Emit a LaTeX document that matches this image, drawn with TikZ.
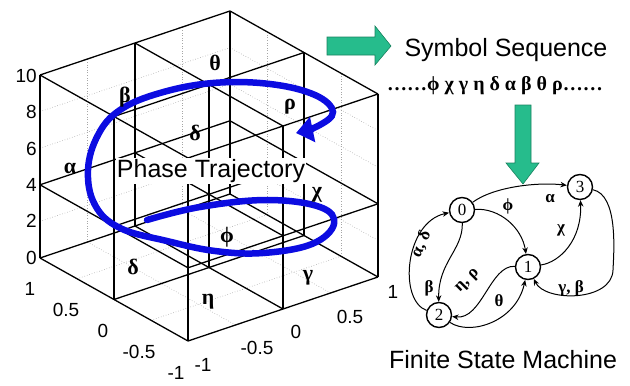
\documentclass[tikz,border=0pt]{standalone}
\usepackage{fontspec}
\setmainfont{Liberation Sans}
\newfontfamily\grk{Liberation Serif}
\usetikzlibrary{arrows.meta}
\definecolor{trajblue}{RGB}{12,12,225}
\definecolor{flowgreen}{RGB}{38,188,140}
\definecolor{flowedge}{RGB}{25,130,95}
\begin{document}
\begin{tikzpicture}[x=1pt,y=-1pt,
  cubeline/.style={line width=1.3pt, black},
  gridline/.style={gray!70, dotted, line width=0.6pt},
  ticklabel/.style={font=\fontsize{19}{19}\selectfont, inner sep=0pt},
  cell/.style={font=\grk\bfseries\fontsize{22}{22}\selectfont, inner sep=0pt},
  bigtext/.style={font=\fontsize{25}{25}\selectfont, inner sep=1pt},
  state/.style={circle, draw, line width=1.4pt, minimum size=25pt, inner sep=0pt, font=\grk\fontsize{17}{17}\selectfont},
  fsmedge/.style={-{Stealth[length=6.5pt,width=5.5pt]}, line width=1pt},
  elabel/.style={font=\grk\bfseries\fontsize{17}{17}\selectfont, inner sep=0pt},
  flowarrow/.style={fill=flowgreen, draw=flowedge, line width=0.6pt}]
\useasboundingbox (0,0) rectangle (630,386);

% ---------- 3D partitioned box ----------
\begin{scope}[shift={(209,267.5)}, x={(-74pt,41.5pt)}, y={(95pt,32pt)}, z={(0pt,18.3pt)}]
  \foreach \z in {2,6,8} { \draw[gridline] (1,-1,\z) -- (1,1,\z) -- (-1,1,\z); }
  \foreach \t in {-0.5,0.5} {
    \draw[gridline] (1,\t,0) -- (1,\t,10);
    \draw[gridline] (\t,1,0) -- (\t,1,10);
    \draw[gridline] (\t,-1,0) -- (\t,1,0);
    \draw[gridline] (-1,\t,0) -- (1,\t,0);
  }
  \foreach \z in {0,4,10} {
    \foreach \a in {-1,0,1} {
      \draw[cubeline] (\a,-1,\z) -- (\a,1,\z);
      \draw[cubeline] (-1,\a,\z) -- (1,\a,\z);
    }
  }
  \foreach \a in {-1,0,1} { \foreach \b in {-1,0,1} { \draw[cubeline] (\a,\b,0) -- (\a,\b,10); } }
\end{scope}

% tick labels
\node[ticklabel, anchor=east] (z10) at (37,76) {10};
\node[ticklabel, anchor=east] (z8) at (37,112) {8};
\node[ticklabel, anchor=east] (z6) at (37,149) {6};
\node[ticklabel, anchor=east] (z4) at (37,185) {4};
\node[ticklabel, anchor=east] (z2) at (37,221) {2};
\node[ticklabel, anchor=east] (z0) at (37,258) {0};
\node[ticklabel] (u1) at (30,289) {1};
\node[ticklabel] (u05) at (66,310) {0.5};
\node[ticklabel] (u0) at (103,331) {0};
\node[ticklabel] (um05) at (139,352) {-0.5};
\node[ticklabel] (um1) at (176,373) {-1};
\node[ticklabel] (vm1) at (203,365) {-1};
\node[ticklabel] (vm05) at (257,348) {-0.5};
\node[ticklabel] (v0) at (296,332) {0};
\node[ticklabel] (v05) at (350,317) {0.5};
\node[ticklabel] (v1) at (393,292) {1};

% trajectory
\draw[trajblue, line width=6.5pt, line cap=round, -{Triangle[length=17pt,width=25pt]}]
  plot[smooth, tension=0.65] coordinates {(147,220) (200,207) (267,200) (320,207) (334,224) (312,244) (263,253) (215,251) (167,241) (120,228) (95,205) (88,170) (98,135) (120,110) (160,93) (213,83) (270,84) (315,95) (333,112) (318,126) (296,133)};

% cell symbols
\node[cell] (cbeta) at (125,97) {β};
\node[cell] (ctheta) at (215,63) {θ};
\node[cell] (crho) at (290,107) {ρ};
\node[cell] (cdeltau) at (195,133) {δ};
\node[cell] (calpha) at (70,168) {α};
\node[cell] (cchi) at (317,195) {χ};
\node[cell] (cphi) at (227,237) {ϕ};
\node[cell] (cdeltal) at (133,267) {δ};
\node[cell] (ceta) at (208,302) {η};
\node[cell] (cgamma) at (308,278) {γ};

\node[bigtext, fill=white] (phase) at (211,171) {Phase Trajectory};

% green flow arrows
\draw[flowarrow] (327,37) -- (375,37) -- (375,26) -- (391,46) -- (375,65) -- (375,55) -- (327,55) -- cycle;
\draw[flowarrow] (515,105) -- (531,105) -- (531,163) -- (539,163) -- (523,184) -- (506,163) -- (515,163) -- cycle;

\node[bigtext] (symseq) at (506,50) {Symbol Sequence};
\node[font=\grk\bfseries\fontsize{20}{20}\selectfont, inner sep=0pt] (seq) at (495,86) {……ϕ χ γ η δ α β θ ρ……};

% finite state machine
\node[state] (n0) at (462,210) {0};
\node[state] (n3) at (580,187) {3};
\node[state] (n1) at (528,267) {1};
\node[state] (n2) at (439,315) {2};

\draw[fsmedge] (n0) .. controls (495,186) and (540,182) .. (n3);
\draw[fsmedge] (n0) .. controls (500,208) and (522,228) .. (n1);
\draw[fsmedge] (n1) .. controls (560,262) and (582,240) .. (n3);
\draw[fsmedge] (n3) .. controls (618,195) and (614,250) .. (613,270) .. controls (612,302) and (545,302) .. (n1);
\draw[fsmedge] (n0) .. controls (463,250) and (438,262) .. (n2);
\draw[fsmedge] (n2) .. controls (398,300) and (405,222) .. (n0);
\draw[fsmedge] (n1) .. controls (490,265) and (482,320) .. (n2);
\draw[fsmedge] (n2) .. controls (470,336) and (516,322) .. (n1);

\node[elabel] (la) at (550,199) {α};
\node[elabel] (lphi) at (508,206) {ϕ};
\node[elabel] (lchi) at (561,230) {χ};
\node[elabel] (lgb) at (571,288) {γ, β};
\node[elabel] (lb) at (429,288) {β};
\node[elabel, rotate=65] (lad) at (421,244) {α, δ};
\node[elabel, rotate=45] (ler) at (468,281) {η, ρ};
\node[elabel] (lth) at (499,301) {θ};

\node[bigtext] (fsm) at (503,360) {Finite State Machine};
\end{tikzpicture}
\end{document}
